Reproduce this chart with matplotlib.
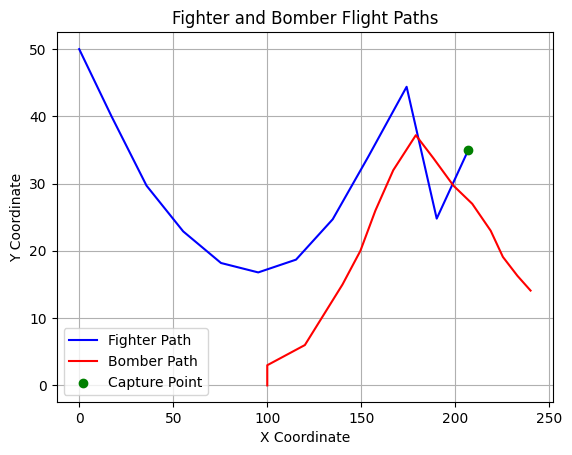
import matplotlib
matplotlib.use("Agg")
import matplotlib.pyplot as plt

# Fighter path
fighter_x = [0, 17.2, 35.8, 55.3, 75.4, 95.2, 115.3, 134.8, 153.7, 174.1, 190.1, 206.9]
fighter_y = [50, 40, 29.7, 22.9, 18.2, 16.8, 18.7, 24.7, 34.0, 44.4, 24.8, 35.0]

# Bomber path
bomber_x = [100, 100, 120, 140, 149.5, 157.5, 167, 179, 188.3, 199, 209, 218.8, 225.3, 233, 240]
bomber_y = [0, 3, 6, 15, 20, 26, 32, 37.2, 33.8, 29.7, 27, 23, 19.1, 16.3, 14.1]

capture_x = [206.9]
capture_y = [35.0]

fig = plt.figure(figsize=(5.72, 4.55), dpi=100)
ax = fig.add_axes([0.099, 0.116, 0.868, 0.813])

ax.plot(fighter_x, fighter_y, color='blue', label='Fighter Path')
ax.plot(bomber_x, bomber_y, color='red', label='Bomber Path')
ax.scatter(capture_x, capture_y, color='green', label='Capture Point', zorder=3)

ax.set_xlabel('X Coordinate')
ax.set_ylabel('Y Coordinate')
ax.set_title('Fighter and Bomber Flight Paths')
ax.legend(loc='lower left')
ax.grid(True)

fig.savefig('out.png')
